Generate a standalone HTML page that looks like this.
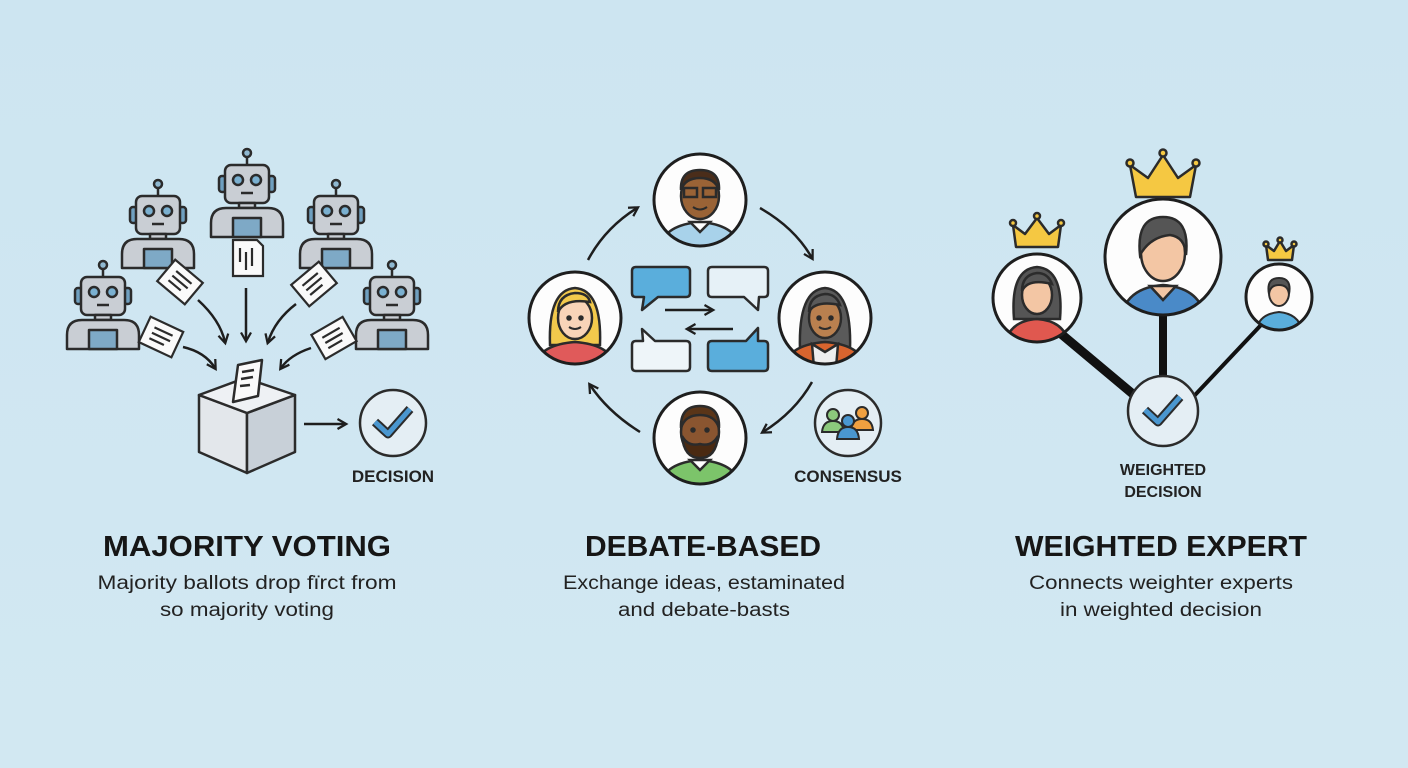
<!DOCTYPE html>
<html><head><meta charset="utf-8"><style>
html,body{margin:0;padding:0;background:#cfe6f1;}
svg{display:block;font-family:"Liberation Sans",sans-serif;}
</style></head><body>
<svg width="1408" height="768" viewBox="0 0 1408 768" xmlns="http://www.w3.org/2000/svg">
<defs>
<linearGradient id="bg" x1="0" y1="0" x2="0" y2="1"><stop offset="0" stop-color="#cde5f1"/><stop offset="1" stop-color="#d2e8f2"/></linearGradient>
<marker id="ah" viewBox="0 0 10 10" refX="7" refY="5" markerWidth="5" markerHeight="5" orient="auto"><path d="M1,1 L8,5 L1,9" fill="none" stroke="#1e1e1e" stroke-width="1.8"/></marker>
<g id="robot" stroke="#2b2b2b" stroke-width="2.5" stroke-linejoin="round">
<line x1="0" y1="-8" x2="0" y2="0"/>
<circle cx="0" cy="-12" r="4" fill="#8fb8d0"/>
<rect x="-28" y="11" width="7" height="16" rx="3" fill="#6fa0c0"/>
<rect x="21" y="11" width="7" height="16" rx="3" fill="#6fa0c0"/>
<rect x="-22" y="0" width="44" height="38" rx="6" fill="#c9ced4"/>
<circle cx="-9" cy="15" r="5" fill="#7ab0d0"/><circle cx="9" cy="15" r="5" fill="#7ab0d0"/>
<line x1="-6" y1="28" x2="6" y2="28"/>
<rect x="-8" y="38" width="16" height="5" fill="#c9ced4"/>
<path d="M-36,72 L-36,58 Q-36,43 -21,43 L21,43 Q36,43 36,58 L36,72 Z" fill="#c9ced4"/>
<rect x="-14" y="53" width="28" height="19" fill="#7ea9c6"/>
</g>
<g id="paper" stroke="#2b2b2b" stroke-width="2.2">
<rect x="-18" y="-14" width="36" height="28" fill="#fafafa"/>
<line x1="-10" y1="-6" x2="10" y2="-6"/><line x1="-10" y1="0" x2="10" y2="0"/><line x1="-10" y1="6" x2="6" y2="6"/>
</g>
</defs>
<rect width="1408" height="768" fill="url(#bg)"/>

<!-- ============ MAJORITY VOTING ============ -->
<use href="#robot" x="247" y="165"/>
<use href="#robot" x="158" y="196"/>
<use href="#robot" x="336" y="196"/>
<use href="#robot" x="103" y="277"/>
<use href="#robot" x="392" y="277"/>
<use href="#paper" transform="translate(180,282) rotate(40)"/>
<use href="#paper" transform="translate(314,284) rotate(-40)"/>
<use href="#paper" transform="translate(161,337) rotate(25)"/>
<use href="#paper" transform="translate(334,338) rotate(-30)"/>
<g stroke="#2b2b2b" stroke-width="2.2"><path d="M233,240 L257,240 L263,246 L263,276 L233,276 Z" fill="#fafafa"/><line x1="240" y1="248" x2="240" y2="262"/><line x1="246" y1="252" x2="246" y2="270"/><line x1="252" y1="248" x2="252" y2="266"/></g>
<g fill="none" stroke="#1e1e1e" stroke-width="2.5" marker-end="url(#ah)">
<path d="M198,300 Q220,320 225,342"/>
<path d="M246,288 L246,340"/>
<path d="M296,304 Q275,320 268,342"/>
<path d="M183,347 Q205,352 215,368"/>
<path d="M311,348 Q290,355 281,368"/>
<path d="M304,424 L345,424"/>
</g>
<g stroke="#2b2b2b" stroke-width="2.5" stroke-linejoin="round">
<path d="M199,395 L247,413 L247,473 L199,452 Z" fill="#e3e7eb"/>
<path d="M247,413 L295,395 L295,452 L247,473 Z" fill="#c8d0d8"/>
<path d="M199,395 L245,378 L295,395 L247,413 Z" fill="#eef1f4"/>
<path d="M233,402 L238,365 L262,360 L258,396 Z" fill="#fafafa"/>
<line x1="242" y1="372" x2="254" y2="370"/><line x1="241" y1="379" x2="253" y2="377"/><line x1="240" y1="386" x2="250" y2="385"/>
</g>
<circle cx="393" cy="423" r="33" fill="#e4eef4" stroke="#2b2b2b" stroke-width="2.5"/>
<path d="M375,422 L388,434 L410,409" fill="none" stroke="#2b2b2b" stroke-width="9" stroke-linejoin="round"/>
<path d="M375,422 L388,434 L410,409" fill="none" stroke="#4a97d0" stroke-width="5" stroke-linejoin="round"/>
<text x="393" y="482" font-size="17" font-weight="bold" text-anchor="middle" fill="#222">DECISION</text>

<!-- ============ DEBATE ============ -->
<g fill="none" stroke="#1e1e1e" stroke-width="2.5" marker-end="url(#ah)">
<path d="M588,260 Q605,228 637,208"/>
<path d="M760,208 Q795,228 812,258"/>
<path d="M812,382 Q795,412 763,432"/>
<path d="M640,432 Q608,412 590,385"/>
<path d="M665,310 L712,310"/>
<path d="M733,329 L688,329"/>
</g>
<g stroke="#2b2b2b" stroke-width="2.5" stroke-linejoin="round">
<path d="M636,267 L686,267 Q690,267 690,271 L690,293 Q690,297 686,297 L658,297 L642,310 L644,297 L636,297 Q632,297 632,293 L632,271 Q632,267 636,267 Z" fill="#5aaedc"/>
<path d="M712,267 L764,267 Q768,267 768,271 L768,293 Q768,297 764,297 L759,297 L758,310 L744,297 L712,297 Q708,297 708,293 L708,271 Q708,267 712,267 Z" fill="#e6f1f7"/>
<path d="M636,341 L643,341 L642,329 L655,341 L686,341 Q690,341 690,345 L690,367 Q690,371 686,371 L636,371 Q632,371 632,367 L632,345 Q632,341 636,341 Z" fill="#eef5f9"/>
<path d="M712,341 L746,341 L758,328 L758,341 L764,341 Q768,341 768,345 L768,367 Q768,371 764,371 L712,371 Q708,371 708,367 L708,345 Q708,341 712,341 Z" fill="#5aaedc"/>
</g>
<clipPath id="c1"><circle cx="700" cy="200" r="46"/></clipPath>
<clipPath id="c2"><circle cx="575" cy="318" r="46"/></clipPath>
<clipPath id="c3"><circle cx="825" cy="318" r="46"/></clipPath>
<clipPath id="c4"><circle cx="700" cy="438" r="46"/></clipPath>
<circle cx="700" cy="200" r="46" fill="#fdfdfd"/>
<g clip-path="url(#c1)" stroke="#2b2b2b" stroke-width="2.5">
<path d="M660,250 Q662,225 700,222 Q738,225 740,250 Z" fill="#a8d2ea"/>
<path d="M690,222 L700,232 L710,222 Z" fill="#fff"/>
<ellipse cx="700" cy="196" rx="19" ry="23" fill="#9a6336"/>
<path d="M681,190 Q680,170 700,170 Q720,170 719,190 Q715,178 700,178 Q685,178 681,190 Z" fill="#4a2d1a"/>
<rect x="684" y="188" width="13" height="9" fill="none"/><rect x="703" y="188" width="13" height="9" fill="none"/>
<path d="M693,207 Q700,212 707,207" fill="none" stroke-width="2"/>
</g>
<circle cx="700" cy="200" r="46" fill="none" stroke="#1e1e1e" stroke-width="3"/>
<circle cx="575" cy="318" r="46" fill="#fdfdfd"/>
<g clip-path="url(#c2)" stroke="#2b2b2b" stroke-width="2.5">
<path d="M550,345 Q548,290 575,288 Q602,290 600,345 Z" fill="#f2c94c"/>
<path d="M535,368 Q537,345 575,342 Q613,345 615,368 Z" fill="#e05a5a"/>
<ellipse cx="575" cy="318" rx="17" ry="21" fill="#f8d4b8"/>
<path d="M558,312 Q565,298 590,302 Q588,293 575,293 Q558,295 558,312 Z" fill="#f2c94c"/>
<circle cx="569" cy="318" r="1.5" fill="#222"/><circle cx="581" cy="318" r="1.5" fill="#222"/>
<path d="M569,327 Q575,331 581,327" fill="none" stroke-width="2"/>
</g>
<circle cx="575" cy="318" r="46" fill="none" stroke="#1e1e1e" stroke-width="3"/>
<circle cx="825" cy="318" r="46" fill="#fdfdfd"/>
<g clip-path="url(#c3)" stroke="#2b2b2b" stroke-width="2.5">
<path d="M800,350 Q798,290 825,288 Q852,290 850,350 Z" fill="#5a5a5a"/>
<path d="M785,368 Q787,345 825,342 Q863,345 865,368 Z" fill="#d8642e"/>
<path d="M812,344 L825,352 L838,344 L836,368 L814,368 Z" fill="#eee"/>
<ellipse cx="825" cy="318" rx="16" ry="20" fill="#b9804f"/>
<path d="M809,312 Q815,300 840,305 Q836,294 825,294 Q809,296 809,312 Z" fill="#5a5a5a"/>
<circle cx="819" cy="318" r="1.5" fill="#222"/><circle cx="831" cy="318" r="1.5" fill="#222"/>
<path d="M819,327 Q825,331 831,327" fill="none" stroke-width="2"/>
</g>
<circle cx="825" cy="318" r="46" fill="none" stroke="#1e1e1e" stroke-width="3"/>
<circle cx="700" cy="438" r="46" fill="#fdfdfd"/>
<g clip-path="url(#c4)" stroke="#2b2b2b" stroke-width="2.5">
<path d="M660,488 Q662,463 700,460 Q738,463 740,488 Z" fill="#7cc46a"/>
<path d="M690,460 L700,470 L710,460 Z" fill="#fff"/>
<ellipse cx="700" cy="432" rx="19" ry="23" fill="#8a5530"/>
<path d="M681,428 Q680,406 700,406 Q720,406 719,428 Q715,415 700,415 Q685,415 681,428 Z" fill="#5a3518"/>
<path d="M682,436 Q684,458 700,458 Q716,458 718,436 Q712,447 700,444 Q688,447 682,436 Z" fill="#4a2a12"/>
<circle cx="693" cy="430" r="1.5" fill="#222"/><circle cx="707" cy="430" r="1.5" fill="#222"/>
</g>
<circle cx="700" cy="438" r="46" fill="none" stroke="#1e1e1e" stroke-width="3"/>
<circle cx="848" cy="423" r="33" fill="#e4eef4" stroke="#2b2b2b" stroke-width="2.5"/>
<g stroke="#2b2b2b" stroke-width="2">
<circle cx="833" cy="415" r="6" fill="#8cc97c"/><path d="M822,432 Q823,421 833,421 Q843,421 844,432 Z" fill="#8cc97c"/>
<circle cx="862" cy="413" r="6" fill="#f0a040"/><path d="M851,430 Q852,419 862,419 Q872,419 873,430 Z" fill="#f0a040"/>
<circle cx="848" cy="421" r="6" fill="#4a97d0"/><path d="M837,439 Q838,427 848,427 Q858,427 859,439 Z" fill="#4a97d0"/>
</g>
<text x="848" y="482" font-size="17" font-weight="bold" text-anchor="middle" fill="#222">CONSENSUS</text>

<!-- ============ WEIGHTED ============ -->
<g stroke="#111" stroke-linecap="round">
<line x1="1060" y1="333" x2="1140" y2="400" stroke-width="9"/>
<line x1="1163" y1="312" x2="1163" y2="378" stroke-width="8"/>
<line x1="1261" y1="325" x2="1195" y2="395" stroke-width="4"/>
</g>
<clipPath id="w1"><circle cx="1163" cy="257" r="58"/></clipPath>
<clipPath id="w2"><circle cx="1037" cy="298" r="44"/></clipPath>
<clipPath id="w3"><circle cx="1279" cy="297" r="33"/></clipPath>
<circle cx="1163" cy="257" r="58" fill="#fdfdfd"/>
<g clip-path="url(#w1)" stroke="#2b2b2b" stroke-width="2.5">
<path d="M1120,325 Q1122,288 1163,285 Q1204,288 1206,325 Z" fill="#4a8ac8"/>
<path d="M1150,286 L1163,300 L1176,286 Z" fill="#f3c6a4"/>
<ellipse cx="1163" cy="253" rx="22" ry="28" fill="#f3c6a4"/>
<path d="M1140,255 Q1136,217 1163,217 Q1190,217 1186,255 Q1185,237 1170,235 Q1150,237 1140,255 Z" fill="#555"/>
</g>
<circle cx="1163" cy="257" r="58" fill="none" stroke="#1e1e1e" stroke-width="3"/>
<circle cx="1037" cy="298" r="44" fill="#fdfdfd"/>
<g clip-path="url(#w2)" stroke="#2b2b2b" stroke-width="2.5">
<path d="M1014,319 Q1010,269 1037,267 Q1064,269 1060,319 Z" fill="#555"/>
<path d="M1005,346 Q1008,321 1037,319 Q1066,321 1069,346 Z" fill="#e0584f"/>
<ellipse cx="1037" cy="295" rx="15" ry="19" fill="#f3c6a4"/>
<path d="M1022,291 Q1028,278 1052,284 Q1048,273 1037,273 Q1022,275 1022,291 Z" fill="#555"/>
</g>
<circle cx="1037" cy="298" r="44" fill="none" stroke="#1e1e1e" stroke-width="3"/>
<circle cx="1279" cy="297" r="33" fill="#fdfdfd"/>
<g clip-path="url(#w3)" stroke="#2b2b2b" stroke-width="2">
<path d="M1256,332 Q1258,314 1279,312 Q1300,314 1302,332 Z" fill="#5aaedc"/>
<ellipse cx="1279" cy="293" rx="10" ry="13" fill="#f3c6a4"/>
<path d="M1269,294 Q1266,278 1279,278 Q1292,278 1289,294 Q1288,285 1279,285 Q1270,285 1269,294 Z" fill="#555"/>
</g>
<circle cx="1279" cy="297" r="33" fill="none" stroke="#1e1e1e" stroke-width="3"/>
<!-- crowns (on top) -->
<g stroke="#2b2b2b" stroke-width="2.5" stroke-linejoin="round" fill="#f5c842">
<path d="M1136,197 L1130,165 L1148,178 L1163,155 L1178,178 L1196,165 L1190,197 Z"/>
<circle cx="1130" cy="163" r="3.5"/><circle cx="1163" cy="153" r="3.5"/><circle cx="1196" cy="163" r="3.5"/>
<path d="M1016,247 L1013,225 L1025,234 L1037,218 L1049,234 L1061,225 L1058,247 Z"/>
<circle cx="1013" cy="223" r="3"/><circle cx="1037" cy="216" r="3"/><circle cx="1061" cy="223" r="3"/>
<path d="M1268,260 L1266,245 L1274,251 L1280,241 L1286,251 L1294,245 L1292,260 Z"/>
<circle cx="1266" cy="244" r="2.5"/><circle cx="1280" cy="240" r="2.5"/><circle cx="1294" cy="244" r="2.5"/>
</g>
<circle cx="1163" cy="411" r="35" fill="#e4eef4" stroke="#2b2b2b" stroke-width="2.5"/>
<path d="M1145,410 L1158,422 L1180,397" fill="none" stroke="#2b2b2b" stroke-width="9" stroke-linejoin="round"/>
<path d="M1145,410 L1158,422 L1180,397" fill="none" stroke="#4a97d0" stroke-width="5" stroke-linejoin="round"/>
<text x="1163" y="475" font-size="16" font-weight="bold" text-anchor="middle" fill="#222">WEIGHTED</text>
<text x="1163" y="497" font-size="16" font-weight="bold" text-anchor="middle" fill="#222">DECISION</text>

<g font-weight="bold" font-size="29" fill="#161616" text-anchor="middle">
<text x="247" y="556" textLength="288" lengthAdjust="spacingAndGlyphs">MAJORITY VOTING</text>
<text x="703" y="556" textLength="236" lengthAdjust="spacingAndGlyphs">DEBATE-BASED</text>
<text x="1161" y="556" textLength="292" lengthAdjust="spacingAndGlyphs">WEIGHTED EXPERT</text>
</g>
<g font-size="19" fill="#222" text-anchor="middle">
<text x="247" y="589" textLength="299" lengthAdjust="spacingAndGlyphs">Majority ballots drop fïrct from</text>
<text x="247" y="616" textLength="174" lengthAdjust="spacingAndGlyphs">so majority voting</text>
<text x="704" y="589" textLength="282" lengthAdjust="spacingAndGlyphs">Exchange ideas, estaminated</text>
<text x="704" y="616" textLength="172" lengthAdjust="spacingAndGlyphs">and debate-basts</text>
<text x="1161" y="589" textLength="264" lengthAdjust="spacingAndGlyphs">Connects weighter experts</text>
<text x="1161" y="616" textLength="202" lengthAdjust="spacingAndGlyphs">in weighted decision</text>
</g>
</svg>
</body></html>
